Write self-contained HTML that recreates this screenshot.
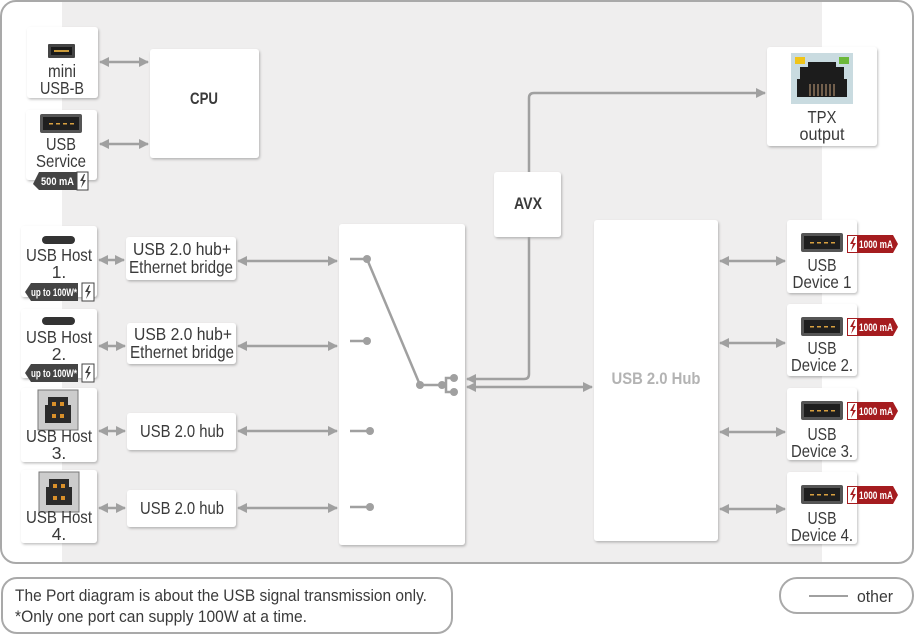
<!DOCTYPE html>
<html><head><meta charset="utf-8"><style>
html,body{margin:0;padding:0;background:#fff;width:915px;height:635px;overflow:hidden}
svg{display:block;font-family:"Liberation Sans Narrow","Liberation Sans",sans-serif}
.b{fill:#fff;filter:url(#sh)}
.t{font-size:17.5px;fill:#3a3a3a;text-anchor:middle}
.bt{font-size:17px;font-weight:bold;fill:#3a3a3a;text-anchor:middle}
.ln{stroke:#a0a0a0;stroke-width:2.5;fill:none}
.dt{fill:#a0a0a0}
</style></head><body>
<svg width="915" height="635" viewBox="0 0 915 635">
<defs>
<filter id="sh" x="-10%" y="-10%" width="130%" height="130%"><feDropShadow dx="1" dy="1.5" stdDeviation="1.2" flood-color="#000" flood-opacity="0.25"/></filter>
<marker id="a" viewBox="0 0 10 10" refX="9" refY="5" markerWidth="4" markerHeight="4" orient="auto-start-reverse"><path d="M0,0L10,5L0,10z" fill="#a0a0a0"/></marker>
<g id="usba"><rect x="0" y="0" width="42" height="19" rx="2" fill="#555"/><rect x="3" y="3" width="36" height="13" fill="#1f1f1f"/><g fill="#d8a040"><rect x="9" y="9" width="4" height="1.5"/><rect x="16" y="9" width="4" height="1.5"/><rect x="23" y="9" width="4" height="1.5"/><rect x="30" y="9" width="4" height="1.5"/></g></g>
<g id="usbb"><rect x="0" y="0" width="40" height="40" fill="#ccc" stroke="#777"/><path d="M10,7h20v8h3v18h-26v-18h3z" fill="#2a2a2a"/><g fill="#d8902a"><rect x="14" y="12" width="4" height="4"/><rect x="22" y="12" width="4" height="4"/><rect x="14" y="24" width="4" height="4"/><rect x="22" y="24" width="4" height="4"/></g></g>
<g id="red"><path d="M0,0h46l5,9l-5,9h-46z" fill="#a51c1f"/><rect x="0.5" y="0.5" width="10" height="17" fill="#fff" stroke="#a51c1f"/><path d="M7,2L3,9h3l-2,7l5,-8h-3l2,-6z" fill="#a51c1f"/><text x="12" y="13" font-size="11" font-weight="bold" fill="#fff" textLength="34" lengthAdjust="spacingAndGlyphs">1000 mA</text></g>
</defs>
<rect x="1" y="1" width="912" height="562" rx="15" fill="#fff" stroke="#a9a9a9" stroke-width="2"/>
<rect x="62" y="2" width="760" height="560" fill="#efeeee"/>
<rect class="b" x="27" y="27" width="71" height="71" rx="3"/>
<rect x="48" y="44" width="27" height="14" rx="1" fill="#444"/><rect x="51" y="47" width="21" height="8" fill="#1a1a1a"/><rect x="54" y="50" width="15" height="2" fill="#c99a3a"/>
<text class="t" x="62" y="77" textLength="28" lengthAdjust="spacingAndGlyphs">mini</text><text class="t" x="62" y="94" textLength="44" lengthAdjust="spacingAndGlyphs">USB-B</text>
<rect class="b" x="26" y="110" width="71" height="70" rx="3"/>
<use href="#usba" x="40" y="114"/>
<text class="t" x="61" y="150" textLength="30" lengthAdjust="spacingAndGlyphs">USB</text><text class="t" x="61" y="167" textLength="50" lengthAdjust="spacingAndGlyphs">Service</text>
<path d="M39,172h39v18h-39l-6,-6z" fill="#444"/><text x="41" y="185" font-size="11" font-weight="bold" fill="#fff" textLength="33" lengthAdjust="spacingAndGlyphs">500 mA</text>
<rect x="77" y="172" width="11" height="18" fill="#fff" stroke="#444"/><path d="M84,174L80,181h3l-2,7l5,-8h-3l2,-6z" fill="#444"/>
<rect class="b" x="150" y="49" width="109" height="109" rx="3"/><text class="bt" x="204" y="104" textLength="28" lengthAdjust="spacingAndGlyphs">CPU</text>
<rect class="b" x="767" y="47" width="110" height="99" rx="3"/>
<rect x="791" y="53" width="62" height="51" fill="#c9dbe0"/>
<path d="M808,62h28v5h8v12h3v18h-50v-18h3v-12h8z" fill="#1c1c1c"/>
<g stroke="#c9a27c" stroke-width="1"><line x1="810" y1="84" x2="810" y2="96"/><line x1="814" y1="84" x2="814" y2="96"/><line x1="818" y1="84" x2="818" y2="96"/><line x1="822" y1="84" x2="822" y2="96"/><line x1="826" y1="84" x2="826" y2="96"/><line x1="830" y1="84" x2="830" y2="96"/><line x1="834" y1="84" x2="834" y2="96"/></g>
<rect x="795" y="57" width="10" height="7" fill="#f0c419"/><rect x="839" y="57" width="10" height="7" fill="#6cb83a"/>
<text class="t" x="822" y="123" textLength="29" lengthAdjust="spacingAndGlyphs">TPX</text><text class="t" x="822" y="140" textLength="45" lengthAdjust="spacingAndGlyphs">output</text>
<rect class="b" x="494" y="172" width="67" height="65" rx="3"/><text class="bt" x="528" y="209" textLength="28" lengthAdjust="spacingAndGlyphs">AVX</text>
<rect class="b" x="21" y="226" width="76" height="71" rx="3"/>
<rect x="42" y="236" width="33" height="8" rx="4" fill="#333"/>
<text class="t" x="59" y="261" textLength="66" lengthAdjust="spacingAndGlyphs">USB Host</text><text class="t" x="59" y="278">1.</text>
<path d="M31,283h47v18h-47l-6,-9z" fill="#444"/><text x="31" y="296" font-size="11" font-weight="bold" fill="#fff" textLength="46" lengthAdjust="spacingAndGlyphs">up to 100W*</text>
<rect x="82" y="283" width="12" height="18" fill="#fff" stroke="#444"/><path d="M89,285L85,292h3l-2,7l5,-8h-3l2,-6z" fill="#444"/>
<rect class="b" x="21" y="309" width="76" height="69" rx="3"/>
<rect x="42" y="317" width="33" height="8" rx="4" fill="#333"/>
<text class="t" x="59" y="343" textLength="66" lengthAdjust="spacingAndGlyphs">USB Host</text><text class="t" x="59" y="360">2.</text>
<path d="M31,364h47v18h-47l-6,-9z" fill="#444"/><text x="31" y="377" font-size="11" font-weight="bold" fill="#fff" textLength="46" lengthAdjust="spacingAndGlyphs">up to 100W*</text>
<rect x="82" y="364" width="12" height="18" fill="#fff" stroke="#444"/><path d="M89,366L85,373h3l-2,7l5,-8h-3l2,-6z" fill="#444"/>
<rect class="b" x="21" y="388" width="76" height="74" rx="3"/>
<use href="#usbb" x="38" y="390"/>
<text class="t" x="59" y="442" textLength="66" lengthAdjust="spacingAndGlyphs">USB Host</text><text class="t" x="59" y="459">3.</text>
<rect class="b" x="21" y="470" width="76" height="73" rx="3"/>
<use href="#usbb" x="39" y="472"/>
<text class="t" x="59" y="523" textLength="66" lengthAdjust="spacingAndGlyphs">USB Host</text><text class="t" x="59" y="540">4.</text>
<rect class="b" x="126" y="237" width="110" height="43" rx="3"/><text class="t" x="182" y="255" textLength="98" lengthAdjust="spacingAndGlyphs">USB 2.0 hub+</text><text class="t" x="181" y="273" textLength="104" lengthAdjust="spacingAndGlyphs">Ethernet bridge</text>
<rect class="b" x="127" y="323" width="109" height="41" rx="3"/><text class="t" x="183" y="340" textLength="98" lengthAdjust="spacingAndGlyphs">USB 2.0 hub+</text><text class="t" x="182" y="358" textLength="104" lengthAdjust="spacingAndGlyphs">Ethernet bridge</text>
<rect class="b" x="127" y="413" width="109" height="37" rx="3"/><text class="t" x="182" y="437" textLength="84" lengthAdjust="spacingAndGlyphs">USB 2.0 hub</text>
<rect class="b" x="127" y="490" width="109" height="37" rx="3"/><text class="t" x="182" y="514" textLength="84" lengthAdjust="spacingAndGlyphs">USB 2.0 hub</text>
<rect class="b" x="339" y="224" width="126" height="321" rx="3"/>
<rect class="b" x="594" y="220" width="124" height="321" rx="3"/>
<text x="656" y="384" font-size="16.5" font-weight="bold" fill="#b3b3b3" text-anchor="middle" textLength="89" lengthAdjust="spacingAndGlyphs">USB 2.0 Hub</text>
<rect class="b" x="787" y="220" width="70" height="73" rx="3"/><use href="#usba" x="801" y="233"/><text class="t" x="822" y="271" textLength="29" lengthAdjust="spacingAndGlyphs">USB</text><text class="t" x="822" y="288" textLength="59" lengthAdjust="spacingAndGlyphs">Device 1</text><use href="#red" x="847" y="235"/>
<rect class="b" x="787" y="304" width="70" height="72" rx="3"/><use href="#usba" x="801" y="317"/><text class="t" x="822" y="354" textLength="29" lengthAdjust="spacingAndGlyphs">USB</text><text class="t" x="822" y="371" textLength="62" lengthAdjust="spacingAndGlyphs">Device 2.</text><use href="#red" x="847" y="318"/>
<rect class="b" x="787" y="388" width="70" height="72" rx="3"/><use href="#usba" x="801" y="401"/><text class="t" x="822" y="440" textLength="29" lengthAdjust="spacingAndGlyphs">USB</text><text class="t" x="822" y="457" textLength="62" lengthAdjust="spacingAndGlyphs">Device 3.</text><use href="#red" x="847" y="402"/>
<rect class="b" x="787" y="472" width="70" height="72" rx="3"/><use href="#usba" x="801" y="485"/><text class="t" x="822" y="524" textLength="29" lengthAdjust="spacingAndGlyphs">USB</text><text class="t" x="822" y="541" textLength="62" lengthAdjust="spacingAndGlyphs">Device 4.</text><use href="#red" x="847" y="486"/>
<g class="ln" marker-start="url(#a)" marker-end="url(#a)">
<line x1="100" y1="62" x2="148" y2="62"/><line x1="100" y1="144" x2="148" y2="144"/>
<line x1="99" y1="260" x2="124" y2="260"/><line x1="99" y1="346" x2="125" y2="346"/><line x1="99" y1="431" x2="125" y2="431"/><line x1="99" y1="508" x2="125" y2="508"/>
<line x1="238" y1="261" x2="337" y2="261"/><line x1="238" y1="346" x2="337" y2="346"/><line x1="238" y1="431" x2="337" y2="431"/><line x1="238" y1="508" x2="337" y2="508"/>
<line x1="467" y1="387" x2="592" y2="387"/>
<line x1="720" y1="261" x2="785" y2="261"/><line x1="720" y1="343" x2="785" y2="343"/><line x1="720" y1="432" x2="785" y2="432"/><line x1="720" y1="509" x2="785" y2="509"/>
</g>
<path class="ln" d="M529,237V374q0,5 -5,5H467" marker-end="url(#a)"/>
<path class="ln" d="M529,172V98q0,-5 5,-5H765" marker-end="url(#a)"/>
<g class="ln" stroke-width="2">
<line x1="350" y1="259" x2="367" y2="259"/><line x1="350" y1="341" x2="367" y2="341"/><line x1="350" y1="431" x2="370" y2="431"/><line x1="350" y1="507" x2="370" y2="507"/>
<line x1="367" y1="259" x2="420" y2="385"/><line x1="420" y1="385" x2="442" y2="385"/>
<path d="M442,385h4v-7h8M446,385v7h8"/>
</g>
<g class="dt"><circle cx="367" cy="259" r="4"/><circle cx="367" cy="341" r="4"/><circle cx="370" cy="431" r="4"/><circle cx="370" cy="507" r="4"/><circle cx="420" cy="385" r="4"/><circle cx="442" cy="385" r="4"/><circle cx="454" cy="378" r="4"/><circle cx="454" cy="392" r="4"/></g>
<rect x="2" y="578" width="450" height="55" rx="15" fill="#fff" stroke="#a9a9a9" stroke-width="2"/>
<text x="15" y="601" font-size="17" fill="#3a3a3a" textLength="412" lengthAdjust="spacingAndGlyphs">The Port diagram is about the USB signal transmission only.</text>
<text x="15" y="622" font-size="17" fill="#3a3a3a" textLength="292" lengthAdjust="spacingAndGlyphs">*Only one port can supply 100W at a time.</text>
<rect x="780" y="578" width="133" height="35" rx="17" fill="#fff" stroke="#a9a9a9" stroke-width="2"/>
<line x1="809" y1="596" x2="848" y2="596" stroke="#a0a0a0" stroke-width="2"/>
<text x="857" y="602" font-size="17" fill="#3a3a3a" textLength="36" lengthAdjust="spacingAndGlyphs">other</text>
</svg>
</body></html>
